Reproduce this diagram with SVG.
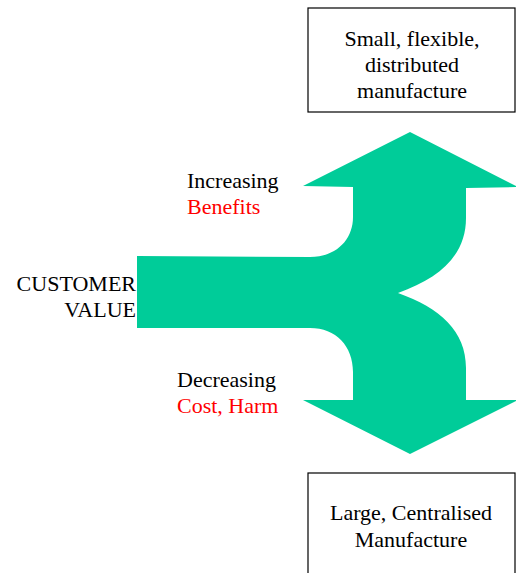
<svg xmlns="http://www.w3.org/2000/svg" width="516" height="573" viewBox="0 0 516 573">
<style>
text{font-family:"Liberation Serif","Times New Roman",serif;font-size:22px;fill:#000}
.red{fill:#FF0000}
.mid{text-anchor:middle}
.end{text-anchor:end}
.box{fill:#fff;stroke:#000;stroke-width:1.2}
.flow{fill:#00CC99}
</style>
<rect width="516" height="573" fill="#fff"/>
<g id="connectors">
<path id="split-arrow" class="flow" d="M137,256 L310,257 C336,257 353,240 353,217 L353,187 L303,186 L410,132 L518,187 L466,188 L466,218 C466,255 440,278 398,293 C440,308 466,331 466,368 L466,400 L518,400 L410,454 L303,400 L353,400 L353,372 C353,346 336,328 310,328 L137,328 Z"/>
</g>
<g id="node-small">
<rect class="box" x="308" y="8" width="207" height="104"/>
<text class="mid" x="412" y="46">Small, flexible,</text>
<text class="mid" x="412" y="72">distributed</text>
<text class="mid" x="412" y="98">manufacture</text>
</g>
<g id="node-large">
<rect class="box" x="308" y="473" width="207" height="110"/>
<text class="mid" x="411" y="520">Large, Centralised</text>
<text class="mid" x="411" y="547">Manufacture</text>
</g>
<g id="node-customer">
<text class="end" x="136" y="291">CUSTOMER</text>
<text class="end" x="136" y="317">VALUE</text>
</g>
<g id="label-increasing">
<text x="187" y="188">Increasing</text>
<text class="red" x="187" y="214">Benefits</text>
</g>
<g id="label-decreasing">
<text x="177" y="387">Decreasing</text>
<text class="red" x="177" y="413">Cost, Harm</text>
</g>
</svg>
